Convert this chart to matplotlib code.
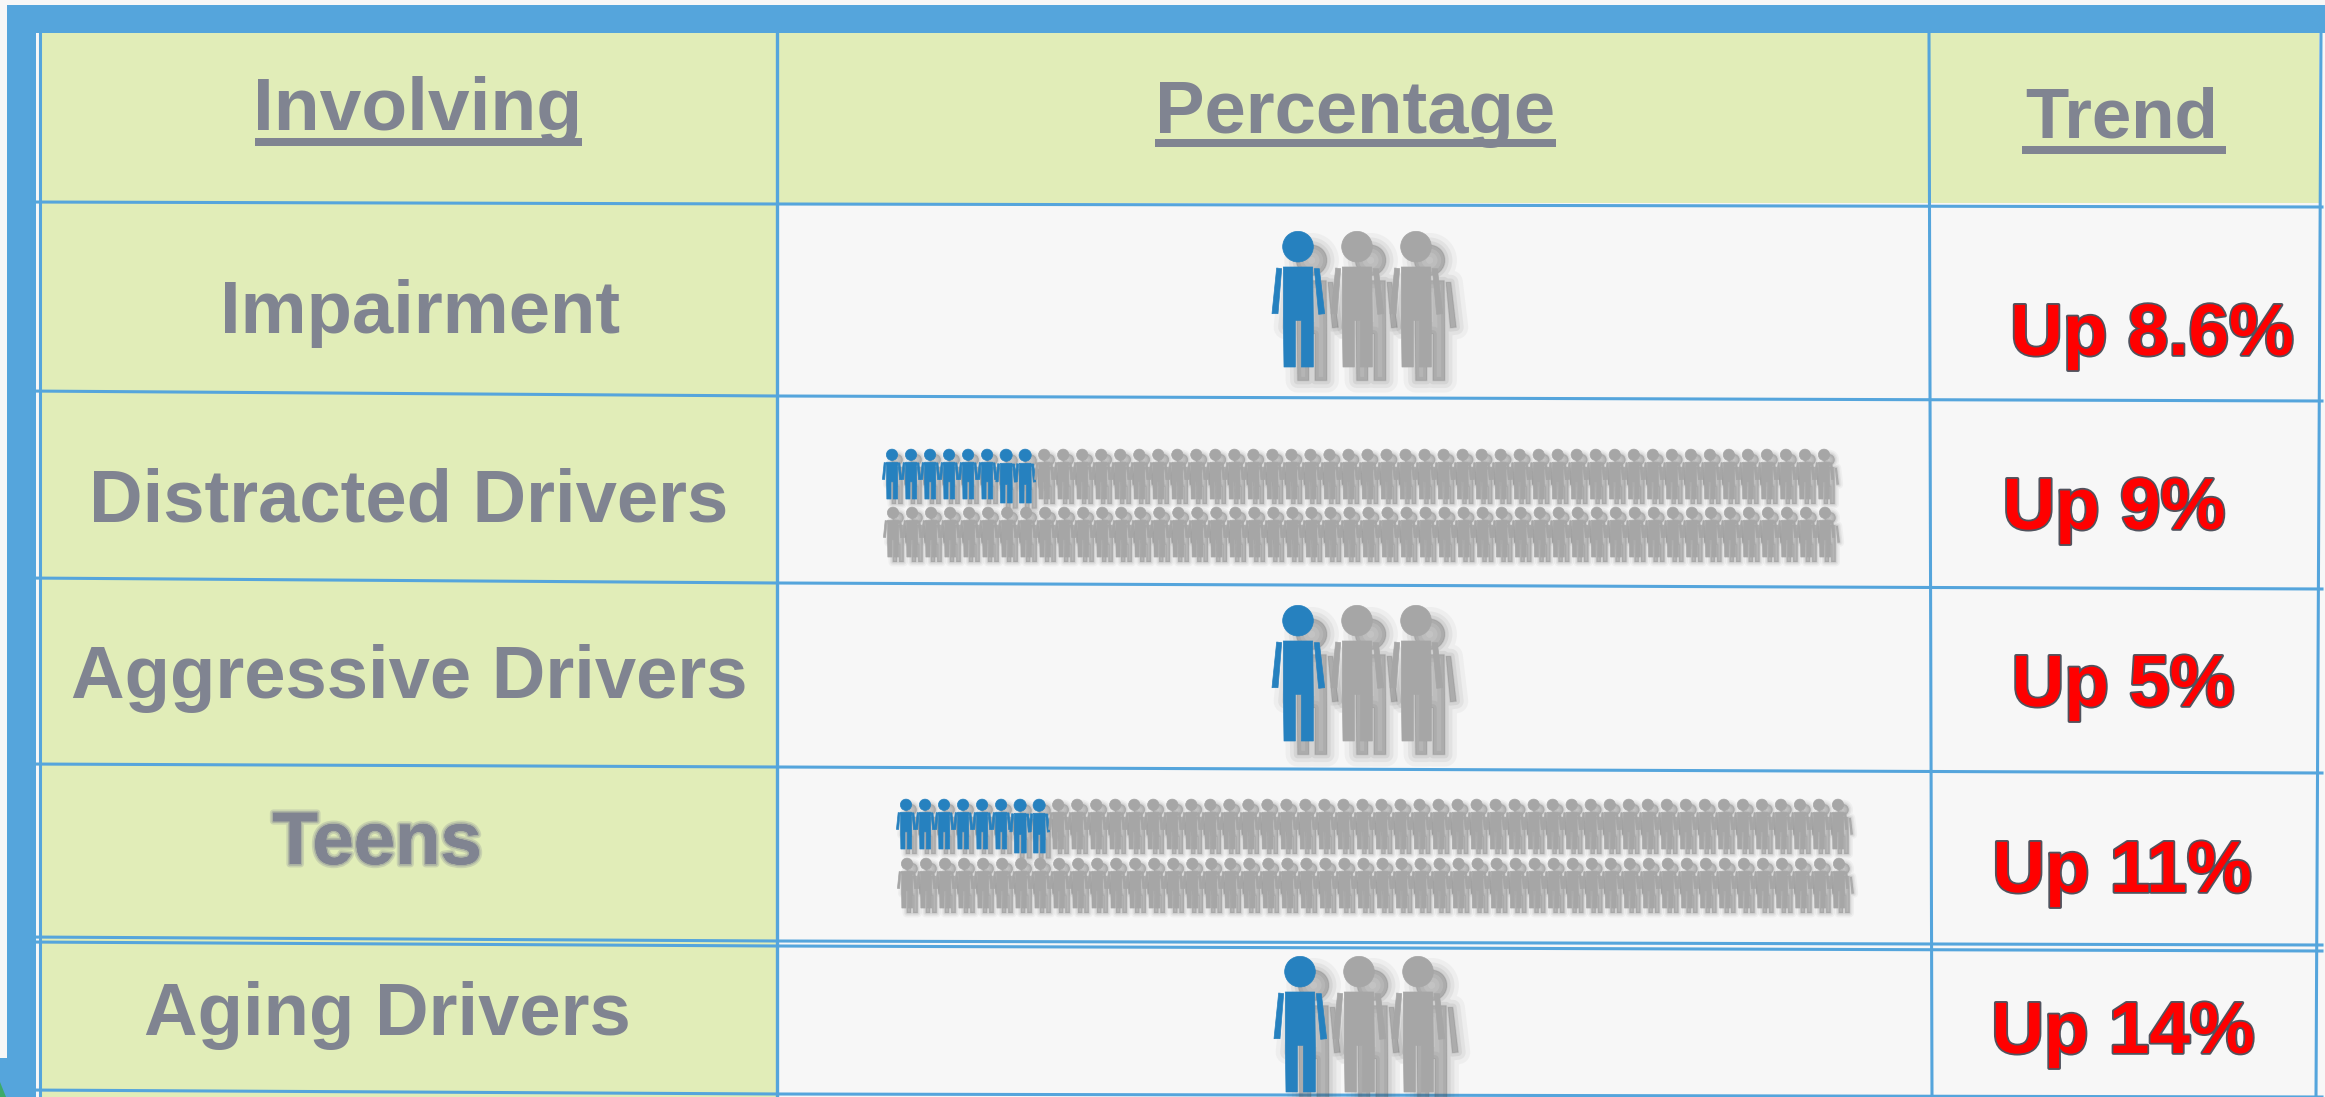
import numpy as np
import matplotlib
matplotlib.use('Agg')
import matplotlib.pyplot as plt
import matplotlib.patheffects as pe
from matplotlib.patches import PathPatch, Rectangle, Polygon
from matplotlib.path import Path
from matplotlib.transforms import Affine2D

headers = ["Involving", "Percentage", "Trend"]
categories = ["Impairment", "Distracted Drivers", "Aggressive Drivers", "Teens", "Aging Drivers"]
trends = ["Up 8.6%", "Up 9%", "Up 5%", "Up 11%", "Up 14%"]
blue_counts = [1, 8, 1, 8, 1]
icon_totals = [3, 100, 3, 100, 3]

plt.rcParams['font.family'] = ['Liberation Sans', 'DejaVu Sans']

BG = "#F7F7F7"
GREEN = "#E1EDB8"
FRAME = "#55A5DC"
TEXT = "#808491"
BLUE = "#2681BF"
GRAY = "#A6A6A6"
RED = "#FF0000"

# layout, in reference pixels
header_x = [418, 1355, 2122]
header_base = [130, 133, 138]
header_size = [54, 53.5, 51]
underlines = [(255, 582, 138, 146), (1155, 1556, 139, 147), (2022, 2226, 146, 154)]
label_x = [420, 409, 409, 377, 387]
label_base = [333, 522, 698, 864, 1035]
trend_x = [2152, 2114, 2123, 2122, 2123]
trend_base = [355, 529, 706, 892, 1053]
# row rules: y at left edge, at first column line, at right edge
rules = [(202, 204, 207), (391, 396, 401), (578, 583, 589), (764, 767, 773),
         (937, 941, 945), (942, 946, 951), (1090, 1094, 1097)]
big_rows = {0: (1298, 231), 2: (1298, 605), 4: (1300, 956)}
small_rows = {1: ((892, 449), (893, 507)), 3: ((906, 799), (907, 858))}


def person_path():
    head = Path.circle((0, 47), 46)
    body = Path([(-44, 108), (44, 108), (46, 268), (46, 408), (10, 408), (10, 268),
                 (-8, 268), (-8, 408), (-42, 408), (-44, 268), (-44, 108)], closed=True)
    arm_l = Path([(-64, 111), (-49, 113), (-60, 248), (-78, 248), (-64, 111)], closed=True)
    arm_r = Path([(49, 113), (64, 113), (80, 248), (62, 250), (49, 113)], closed=True)
    return Path.make_compound_path(head, body, arm_l, arm_r)


PERSON = person_path()


def draw_shadow(ax, cx, top, h):
    s = h / 408
    off = h * 0.1
    tr = Affine2D().scale(s).translate(cx + off, top + off) + ax.transData
    blur = h * 0.055
    for k, a in zip([1.6, 1.0, 0.5, 0.1], [0.05, 0.07, 0.09, 0.12]):
        ax.add_patch(PathPatch(PERSON, transform=tr, facecolor="#505050", edgecolor="#505050",
                               linewidth=blur * k * 1.44, alpha=a, joinstyle='round', zorder=3))


def draw_person(ax, cx, top, h, color):
    tr = Affine2D().scale(h / 408).translate(cx, top) + ax.transData
    ax.add_patch(PathPatch(PERSON, transform=tr, facecolor=color, edgecolor=color,
                           linewidth=0.5, joinstyle='round', zorder=4))


fig = plt.figure(figsize=(23.25, 10.97), dpi=100, facecolor=BG)
ax = fig.add_axes([0, 0, 1, 1])
ax.set_xlim(0, 2325)
ax.set_ylim(1097, 0)
ax.axis('off')

# frame and fills
ax.add_patch(Rectangle((42, 33), 735, 1064, color=GREEN, lw=0, zorder=1))
ax.add_patch(Rectangle((42, 33), 2277, 170, color=GREEN, lw=0, zorder=1))
ax.add_patch(Rectangle((7, 5), 2318, 28, color=FRAME, lw=0, zorder=2))
ax.add_patch(Rectangle((7, 5), 29, 1092, color=FRAME, lw=0, zorder=2))
ax.add_patch(Rectangle((0, 1058), 7, 39, color=FRAME, lw=0, zorder=2))
ax.add_patch(Polygon([(0, 1082), (6, 1097), (0, 1097)], color="#3DAA6A", lw=0, zorder=2))

# grid lines
ax.plot([40, 40], [33, 1097], color=FRAME, lw=2.2, zorder=2)
ax.plot([777, 777], [33, 1097], color=FRAME, lw=2.4, zorder=2)
ax.plot([1929, 1932], [33, 1097], color=FRAME, lw=2.2, zorder=2)
ax.plot([2321, 2316], [33, 1097], color=FRAME, lw=2.2, zorder=2)
for y0, y1, y2 in rules:
    ax.plot([25, 777, 2322], [y0, y1, y2], color=FRAME, lw=2.2, zorder=2)

# headers
for name, x, y, size, (x0, x1, u0, u1) in zip(headers, header_x, header_base, header_size, underlines):
    ax.text(x, y, name, ha='center', va='baseline', fontsize=size, fontweight='bold', color=TEXT, zorder=5)
    ax.add_patch(Rectangle((x0, u0), x1 - x0, u1 - u0, color=TEXT, lw=0, zorder=5))

# row labels
for i, name in enumerate(categories):
    t = ax.text(label_x[i], label_base[i], name, ha='center', va='baseline', fontsize=53.5,
                fontweight='bold', color=TEXT, zorder=5)
    if name == "Teens":
        t.set_path_effects([pe.withStroke(linewidth=5, foreground=TEXT, alpha=0.25),
                            pe.withStroke(linewidth=2.5, foreground=TEXT, alpha=0.4), pe.Normal()])

# trend values
for x, y, label in zip(trend_x, trend_base, trends):
    ax.text(x, y, label, ha='center', va='baseline', fontsize=52.5, fontweight='bold', color=RED,
            path_effects=[pe.withStroke(linewidth=2.6, foreground="#50535E")], zorder=5)

# icons
icons = []
for i, (blue, total) in enumerate(zip(blue_counts, icon_totals)):
    if total == 3:
        cx, top = big_rows[i]
        for k in range(total):
            icons.append((cx + 59 * k, top, 136, BLUE if k < blue else GRAY))
    else:
        for r, (cx, top) in enumerate(small_rows[i]):
            for k in range(total // 2):
                n = r * (total // 2) + k
                big = r == 0 and k in (6, 7)
                icons.append((cx + 19.02 * k, top, 54 if big else 50, BLUE if n < blue else GRAY))

for cx, top, h, c in icons:
    draw_shadow(ax, cx, top, h)
for cx, top, h, c in icons:
    draw_person(ax, cx, top, h, c)

fig.savefig("out.png", dpi=100, facecolor=BG)
